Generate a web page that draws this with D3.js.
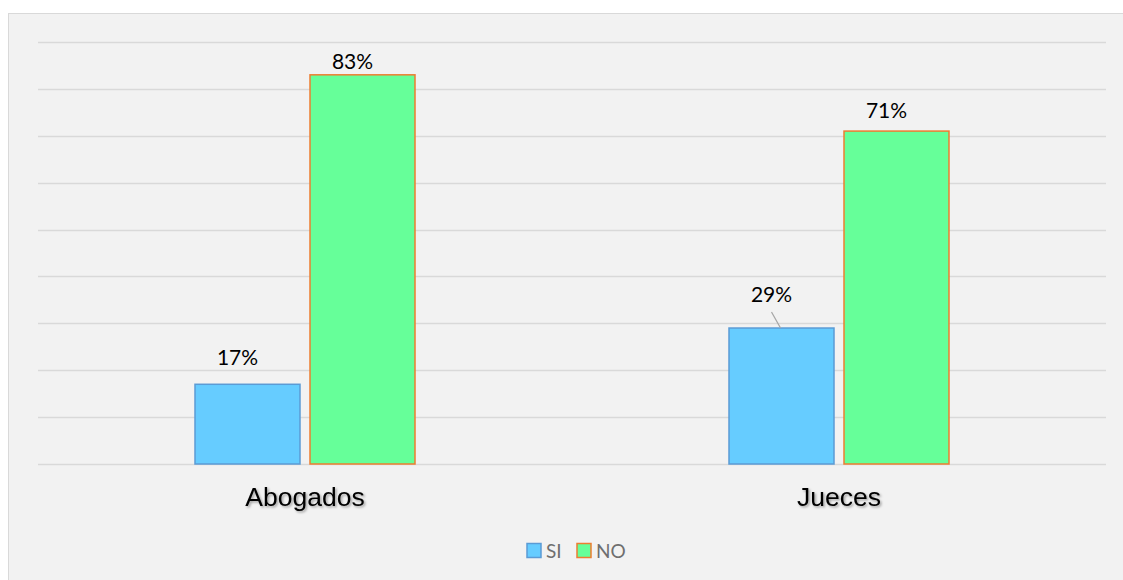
<!DOCTYPE html>
<html><head><meta charset="utf-8">
<script src="https://cdn.jsdelivr.net/npm/d3@7"></script>
<style>body{margin:0;background:#fff;}svg{display:block;}</style>
</head><body>
<svg id="chart" width="1123" height="580"></svg>
<script>
const categories = ["Abogados", "Jueces"];
const seriesNames = ["SI", "NO"];
const siValues = [0.17, 0.29];
const noValues = [0.83, 0.71];
const yTicks = [0, 0.1, 0.2, 0.3, 0.4, 0.5, 0.6, 0.7, 0.8, 0.9];

const fills = {SI: "#66ccff", NO: "#66ff99"};
const strokes = {SI: "#5b9bd5", NO: "#ed7d31"};
// label placement (style, not data): vertical gap above bar
const labelGap = {"Abogados-SI": 19, "Abogados-NO": 6, "Jueces-SI": 26, "Jueces-NO": 13};

const svg = d3.select("#chart");
svg.append("rect").attr("x", 8.5).attr("y", 13.5).attr("width", 1120).attr("height", 570)
  .attr("fill", "#f2f2f2").attr("stroke", "#d9d9d9");

const defs = svg.append("defs");
const f = defs.append("filter").attr("id", "sh").attr("x", "-10%").attr("y", "-20%").attr("width", "130%").attr("height", "150%");
f.append("feDropShadow").attr("dx", 1.5).attr("dy", 1.5).attr("stdDeviation", 1).attr("flood-color", "#000").attr("flood-opacity", 0.35);

const x0 = d3.scaleBand().domain(categories).range([38, 1106]);
const y = d3.scaleLinear().domain([0, 0.9]).range([464, 42]);

svg.append("g").selectAll("line").data(yTicks).join("line")
  .attr("x1", 38).attr("x2", 1106)
  .attr("y1", d => Math.round(y(d)) + 0.5).attr("y2", d => Math.round(y(d)) + 0.5)
  .attr("stroke", "#d9d9d9").attr("stroke-width", 1.5);

const barW = 105, gap = 10;
const data = [];
categories.forEach((c, i) => {
  data.push({cat: c, s: "SI", v: siValues[i], off: -gap / 2 - barW});
  data.push({cat: c, s: "NO", v: noValues[i], off: gap / 2});
});

svg.append("g").selectAll("rect").data(data).join("rect")
  .attr("x", d => x0(d.cat) + x0.bandwidth() / 2 + d.off)
  .attr("y", d => y(d.v))
  .attr("width", barW)
  .attr("height", d => y(0) - y(d.v))
  .attr("fill", d => fills[d.s])
  .attr("stroke", d => strokes[d.s]).attr("stroke-width", 1.5);

// labels
data.forEach(d => {
  const cx = x0(d.cat) + x0.bandwidth() / 2 + d.off + barW / 2;
  const key = d.cat + "-" + d.s;
  let lx = cx - 10, ly = y(d.v) - labelGap[key];
  if (key === "Jueces-SI") {
    svg.append("line").attr("x1", lx).attr("y1", ly + 10).attr("x2", lx + 9).attr("y2", y(d.v))
      .attr("stroke", "#a6a6a6").attr("stroke-width", 1.2);
  }
  svg.append("text").attr("x", lx).attr("y", ly)
    .attr("text-anchor", "middle")
    .attr("font-family", "Lato, 'Open Sans', sans-serif").attr("font-size", 21)
    .attr("fill", "#000").text(Math.round(d.v * 100) + "%");
});

svg.append("g").selectAll("text").data(categories).join("text")
  .attr("x", d => x0(d) + x0.bandwidth() / 2).attr("y", 506)
  .attr("text-anchor", "middle")
  .attr("font-family", "'Liberation Sans', Arial, sans-serif").attr("font-size", 26.5)
  .attr("fill", "#000").attr("filter", "url(#sh)").text(d => d);

// legend
const lg = svg.append("g");
const legendX = [527, 577];
seriesNames.forEach((s, i) => {
  lg.append("rect").attr("x", legendX[i]).attr("y", 543.5).attr("width", 14).attr("height", 14)
    .attr("fill", fills[s]).attr("stroke", strokes[s]).attr("stroke-width", 1.5);
  lg.append("text").attr("x", legendX[i] + 19).attr("y", 558)
    .attr("font-family", "Lato, 'Open Sans', sans-serif").attr("font-size", 19)
    .attr("fill", "#6f6f6f").text(s);
});
</script>
</body></html>
